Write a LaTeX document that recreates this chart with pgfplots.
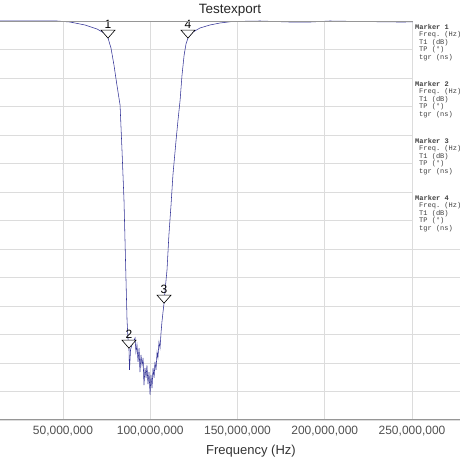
\documentclass[border=0pt]{standalone}
\usepackage{fontspec}
\setmainfont{Liberation Sans}
\setmonofont{Liberation Mono}
\usepackage{pgfplots}
\pgfplotsset{compat=1.18}

\definecolor{trace}{RGB}{50,50,150}
\definecolor{gridc}{RGB}{220,220,220}
\definecolor{axc}{RGB}{150,150,150}
\definecolor{txt}{RGB}{80,80,80}

% marker triangle, tip on the data point
\pgfdeclareplotmark{dtri}{%
  \pgfpathmoveto{\pgfqpoint{0pt}{0pt}}%
  \pgfpathlineto{\pgfqpoint{-7pt}{8pt}}%
  \pgfpathlineto{\pgfqpoint{7pt}{8pt}}%
  \pgfpathclose
  \pgfusepathqfillstroke}

\begin{document}
\begin{tikzpicture}
\path[use as bounding box] (0pt,0pt) rectangle (460pt,460pt);

\begin{axis}[
    at={(0pt,40pt)}, anchor=south west,
    scale only axis,
    width=460pt, height=399pt,
    xmin=13.9, xmax=277.5,
    ymin=-70, ymax=0,
    axis line style={draw=none},
    clip mode=individual,
    xtick={50,100,150,200,250},
    xticklabels={{50,000,000},{100,000,000},{150,000,000},{200,000,000},{250,000,000}},
    ytick={-70,-65,...,0},
    yticklabels={},
    major tick length=0pt,
    grid=major,
    grid style={gridc, line width=0.6pt},
    xticklabel style={font=\fontsize{12}{14}\selectfont, text=txt},
    tick label style={inner sep=0pt},
    xticklabel shift=6pt,
]
\addplot[trace, line width=0.55pt] coordinates {
(13.9,0) (36.8,0) (46.6,0) (54.0,-0.18) (62.6,-0.70) (69.5,-1.40) (73.5,-2.11)
(75.8,-3.0) (77.5,-4.74) (79.2,-7.72) (80.9,-11.23) (82.7,-14.74) (83.8,-22.6)
(84.95,-31.4) (86.1,-45.4) (86.7,-52.5) (87.3,-56.0) (87.8,-57.4) (88.1,-61.2)
(88.7,-57.7) (89.5,-56.8) (90.7,-56.0) (91.3,-55.6) (91.8,-58.1) (92.4,-56.8)
(93.0,-59.8) (93.6,-57.4) (94.1,-61.6) (94.7,-58.6) (95.3,-60.4) (95.9,-59.1)
(96.4,-63.9) (97.0,-60.9) (97.6,-62.6) (98.1,-60.4) (98.7,-63.7) (99.3,-61.6)
(99.9,-65.6) (100.4,-62.1) (101.0,-64.4) (101.6,-60.9) (102.2,-62.6) (102.7,-59.8)
(103.3,-61.2) (103.9,-58.1) (104.4,-59.1) (105.0,-56.3) (105.6,-57.4) (106.2,-54.6)
(106.7,-52.8) (107.3,-51.1) (107.9,-49.5) (108.5,-47.2) (109.6,-43.7) (110.7,-37.5)
(111.9,-32.3) (113.0,-27.0) (114.8,-20.9) (115.9,-17.4) (117.1,-13.9) (118.2,-9.5)
(119.4,-6.0) (120.5,-4.0) (121.6,-3.0) (124.5,-1.93) (128.5,-1.23) (134.2,-0.70)
(140.0,-0.35) (146.9,-0.09) (162.9,0) (180.1,-0.18) (191.6,-0.18) (203.0,0)
(220.2,-0.09) (243.1,-0.18) (277.5,-0.09)
};
\addplot[only marks, mark=dtri, mark options={draw=black, fill=white, line width=0.6pt},
    point meta=explicit symbolic, nodes near coords,
    every node near coord/.append style={anchor=base, yshift=10pt, inner sep=0pt,
      font=\fontsize{12}{14}\selectfont, text=black}]
  coordinates {(75.8,-3.0) [1] (87.8,-57.4) [2] (107.9,-49.5) [3] (121.6,-3.0) [4]};
\end{axis}

% frame lines of the export
\draw[axc, line width=0.8pt] (0pt,439pt) -- (460pt,439pt);
\draw[axc, line width=1pt] (0pt,40pt) -- (460pt,40pt);
% marker table box
\fill[white] (413pt,215pt) rectangle (460pt,440pt);

\node[font=\fontsize{13.5}{15}\selectfont, text=black!85] at (230pt,450pt) {Testexport};
\node[font=\fontsize{13}{15}\selectfont, text=black!80] at (251pt,9pt) {Frequency (Hz)};

\foreach \n [count=\i from 0] in {1,2,3,4}{
  \begin{scope}[yshift={-57*\i pt}]
  \node[anchor=west, inner sep=0pt, font=\ttfamily\bfseries\fontsize{7}{8}\selectfont, text=black!75] at (415pt,433pt) {Marker \n};
  \node[anchor=west, inner sep=0pt, font=\ttfamily\fontsize{7}{8}\selectfont, text=black!75] at (419pt,425pt) {Freq. (Hz)};
  \node[anchor=west, inner sep=0pt, font=\ttfamily\fontsize{7}{8}\selectfont, text=black!75] at (419pt,417.5pt) {T1 (dB)};
  \node[anchor=west, inner sep=0pt, font=\ttfamily\fontsize{7}{8}\selectfont, text=black!75] at (419pt,410pt) {TP (°)};
  \node[anchor=west, inner sep=0pt, font=\ttfamily\fontsize{7}{8}\selectfont, text=black!75] at (419pt,402pt) {tgr (ns)};
  \end{scope}
}
\end{tikzpicture}
\end{document}
